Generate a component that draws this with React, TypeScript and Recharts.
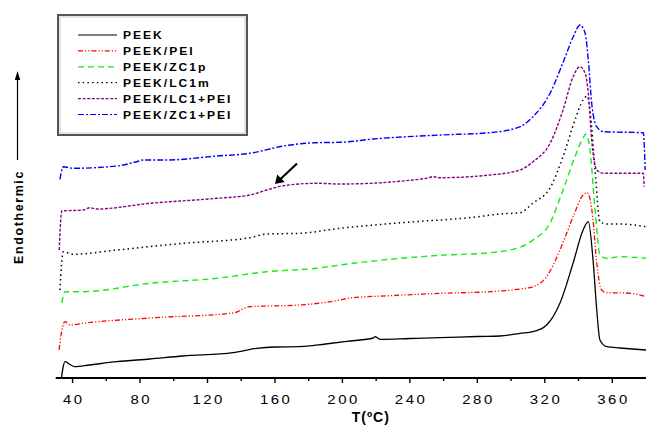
import React from 'react';
import { LineChart, Line, XAxis, YAxis, Legend } from 'recharts';

// Temperature (°C) vs. heat flow (arbitrary units, endothermic up)
const PEEK: [number, number][] = [
  [33.4, 0], [34.3, 10], [35.5, 16.3], [38, 14], [41.4, 11.3], [50, 13], [66.2, 16.3], [85.9, 19],
  [105.5, 22], [135.1, 25.3], [149.2, 29.7], [160, 31], [174.8, 31.3], [190, 34], [204.5, 37],
  [218.3, 40], [219.3, 41.3], [222.3, 38.7], [240, 39.5], [257.9, 40.3], [280, 41.5], [293.4, 42],
  [305.3, 44.7], [313, 46.3], [321.1, 53], [329, 75], [336.8, 115], [342.7, 148], [345.8, 156.3],
  [348.6, 118], [350.8, 68], [352.7, 38], [356.7, 31.3], [364.7, 30], [372, 29], [380, 28],
];
const PEEK_PEI: [number, number][] = [
  [32.0, 28], [32.5, 35], [35.5, 56.3], [38.5, 53], [46.2, 54.7], [85.9, 60], [135.1, 65], [145.2, 71.3],
  [174.8, 73], [198.6, 78], [204.5, 80], [228.2, 82.3], [257.9, 84.7], [287.5, 86.3], [305.3, 89],
  [313, 91.3], [321.1, 101.3], [329, 128], [336.8, 161.3], [342.7, 183], [345.2, 185.3], [348.4, 161.3],
  [350.8, 115], [353.7, 88], [356.7, 85.3], [368.5, 85], [380, 81.3],
];
const PEEK_ZC1P: [number, number][] = [
  [33.6, 75], [35.5, 86.3], [46.2, 86.3], [85.9, 94.7], [125.5, 99.7], [155.1, 106.3], [184.7, 109.7],
  [198.6, 113], [228.2, 118.7], [257.9, 122.7], [287.5, 125.3], [305.3, 130.7], [313, 138], [323.1, 155],
  [330.8, 188], [337.9, 221.3], [342.7, 240], [344.4, 244], [346.8, 228], [349.8, 168], [352.7, 123],
  [356.7, 119.7], [364.7, 121.3], [380, 119.7],
];
const PEEK_LC1M: [number, number][] = [
  [32.5, 88], [34.5, 126.3], [40.4, 123.7], [66.2, 128], [105.7, 134.7], [145.2, 140.3], [155.1, 144],
  [174.8, 144.7], [198.6, 149.7], [238.1, 155.7], [277.6, 160.7], [293.4, 164], [305.3, 165.3], [313, 175],
  [323.1, 190], [330.8, 221.3], [337.9, 258], [342.7, 278], [345.2, 282], [346.8, 268], [349.8, 208],
  [352.7, 156.3], [356.7, 154], [364.7, 154], [380, 151.3],
];
const PEEK_LC1_PEI: [number, number][] = [
  [32.1, 128], [33.6, 167], [46.4, 168], [50.3, 170.3], [54.3, 169], [85.9, 174.7], [125.5, 179.7],
  [145.2, 183], [155.1, 188], [165, 192.3], [184.7, 194.7], [198.6, 194], [250, 199.7], [253.7, 201.3],
  [257.9, 200.3], [287.5, 203], [305.3, 208], [313, 216.3], [323.1, 234.7], [330.8, 268], [336.8, 301.3],
  [340.8, 311.3], [343.9, 304.7], [345.8, 284.7], [347.8, 238], [350.8, 208], [354.7, 204.7],
  [368.5, 204.7], [378.4, 204.7], [378.9, 191.3],
];
const PEEK_ZC1_PEI: [number, number][] = [
  [32.5, 198.7], [34.5, 211.3], [40.4, 209.7], [66.2, 212], [78, 216.3], [81.9, 218], [95.8, 218],
  [125.5, 222], [145.2, 224.7], [165, 232], [184.7, 235.3], [198.6, 235.7], [218.3, 239], [257.9, 243],
  [287.5, 245.3], [305.3, 251.3], [313, 261.3], [323.1, 284.7], [331, 316.3], [336.9, 341.3],
  [340.9, 353], [343.9, 344.7], [345.8, 318], [347.8, 274.7], [350.8, 251.3], [354.7, 246.3],
  [378.4, 245.3], [379.5, 208],
];

const SERIES_NAMES = ['PEEK', 'PEEK/PEI', 'PEEK/ZC1p', 'PEEK/LC1m', 'PEEK/LC1+PEI', 'PEEK/ZC1+PEI'];
const SERIES_DATA = [PEEK, PEEK_PEI, PEEK_ZC1P, PEEK_LC1M, PEEK_LC1_PEI, PEEK_ZC1_PEI];

const X_LABEL_TICKS = [40, 80, 120, 160, 200, 240, 280, 320, 360];
const X_ALL_TICKS = [40, 60, 80, 100, 120, 140, 160, 180, 200, 220, 240, 260, 280, 300, 320, 340, 360];
const Y_TICKS = [28, 58.7, 89.4, 120.1, 150.8, 181.5, 212.2, 242.9, 273.6, 304.3, 335];

const STYLES = [
  { color: '#000000', dash: undefined as string | undefined, width: 1.3 },
  { color: '#ff0000', dash: '5 2 1.2 2 1.2 2', width: 1.3 },
  { color: '#11ee11', dash: '6 4', width: 1.4 },
  { color: '#000000', dash: '1.5 3.2', width: 1.5 },
  { color: '#880088', dash: '3 1.6', width: 1.4 },
  { color: '#0000ff', dash: '6 2 2 2', width: 1.4 },
];

const FONT = '"Liberation Sans", Arial, sans-serif';

const BottomTick = (props: any) => {
  const { x, y, payload } = props;
  const major = X_LABEL_TICKS.includes(payload.value);
  return (
    <g>
      <line x1={x} y1={y} x2={x} y2={y + (major ? 5 : 3)} stroke="#000" strokeWidth={1.4} />
      {major && (
        <text
          transform={`translate(${x + 1.2},${y + 26}) scale(1.15,1)`}
          textAnchor="middle"
          fontFamily={FONT}
          fontSize={13}
          letterSpacing={2.2}
          fill="#000"
        >
          {payload.value}
        </text>
      )}
    </g>
  );
};

const TopTick = (props: any) => {
  const { x, y } = props;
  return <line x1={x} y1={y} x2={x} y2={y + 2.5} stroke="#000" strokeWidth={1.2} />;
};

const LeftTick = (props: any) => {
  const { x, y } = props;
  return <line x1={x} y1={y} x2={x + 4} y2={y} stroke="#000" strokeWidth={1.2} />;
};

const LegendBox = () => (
  <svg width={192} height={124} style={{ display: 'block' }}>
    <rect x={1} y={1} width={189} height={120} fill="#fff" stroke="#555" strokeWidth={2} />
    <rect x={3} y={3} width={185} height={116} fill="none" stroke="#bbb" strokeWidth={0.8} />
    {SERIES_NAMES.map((n, i) => {
      const cy = 21 + i * 15.9;
      return (
        <g key={n}>
          <line x1={21} x2={60} y1={cy} y2={cy} stroke={STYLES[i].color} strokeWidth={1.2} strokeDasharray={STYLES[i].dash} />
          <text
            transform={`translate(66,${cy + 4}) scale(1.1,1)`}
            fontFamily={FONT}
            fontWeight="bold"
            fontSize={11}
            letterSpacing={1.8}
            fill="#000"
          >
            {n}
          </text>
        </g>
      );
    })}
  </svg>
);

export default function App() {
  return (
    <div style={{ position: 'absolute', left: 0, top: 0, width: 646, height: 430, background: '#fff', overflow: 'hidden' }}>
      <LineChart width={646} height={430} margin={{ top: 12.7, right: 0, bottom: 0, left: 55.7 }}>
        <XAxis
          xAxisId="b"
          dataKey="t"
          type="number"
          domain={[30, 380]}
          ticks={X_ALL_TICKS}
          interval={0}
          height={52}
          tickSize={0}
          tickMargin={0}
          tickLine={false}
          tick={<BottomTick />}
          axisLine={{ stroke: '#000', strokeWidth: 2 }}
          allowDataOverflow
          label={{ value: 'T(ºC)', position: 'insideBottom', offset: 8, dx: 20, fontFamily: FONT, fontWeight: 'bold', fontSize: 14, fill: '#000', letterSpacing: 1 } as any}
        />
        <XAxis
          xAxisId="t"
          orientation="top"
          dataKey="t"
          type="number"
          domain={[30, 380]}
          ticks={X_ALL_TICKS}
          interval={0}
          height={0}
          tickSize={0}
          tickMargin={0}
          tickLine={false}
          tick={<TopTick />}
          axisLine={{ stroke: '#000', strokeWidth: 1.6 }}
          allowDataOverflow
        />
        <YAxis
          type="number"
          domain={[0, 365.3]}
          ticks={Y_TICKS}
          interval={0}
          width={0}
          tickSize={0}
          tickMargin={0}
          tickLine={false}
          tick={<LeftTick />}
          axisLine={{ stroke: '#000', strokeWidth: 2 }}
          allowDataOverflow
        />
        <Legend
          layout="horizontal"
          verticalAlign="middle"
          align="center"
          content={() => <LegendBox />}
          wrapperStyle={{ position: 'absolute', left: 57, top: 14, width: 192, height: 124 }}
        />
        {SERIES_DATA.map((arr, i) => (
          <Line
            key={SERIES_NAMES[i]}
            xAxisId="b"
            name={SERIES_NAMES[i]}
            data={arr.map(([t, v]) => ({ t, v }))}
            dataKey="v"
            type="monotone"
            stroke={STYLES[i].color}
            strokeWidth={STYLES[i].width}
            strokeDasharray={STYLES[i].dash}
            dot={false}
            activeDot={false}
            isAnimationActive={false}
          />
        ))}
      </LineChart>
      <svg width={646} height={430} style={{ position: 'absolute', left: 0, top: 0, pointerEvents: 'none' }}>
        <text
          transform="translate(22.5,217) rotate(-90)"
          textAnchor="middle"
          fontFamily={FONT}
          fontWeight="bold"
          fontSize={12.5}
          letterSpacing={1.6}
          fill="#000"
        >
          Endothermic
        </text>
        <line x1={17.5} y1={160} x2={17.5} y2={78} stroke="#000" strokeWidth={1.2} />
        <polygon points="17.5,71 14.8,80 20.2,80" fill="#000" />
        <line x1={297} y1={163.5} x2={280} y2={179.5} stroke="#000" strokeWidth={2.2} />
        <polygon points="275,184 277.2,174.6 284.6,182.1" fill="#000" />
      </svg>
    </div>
  );
}
